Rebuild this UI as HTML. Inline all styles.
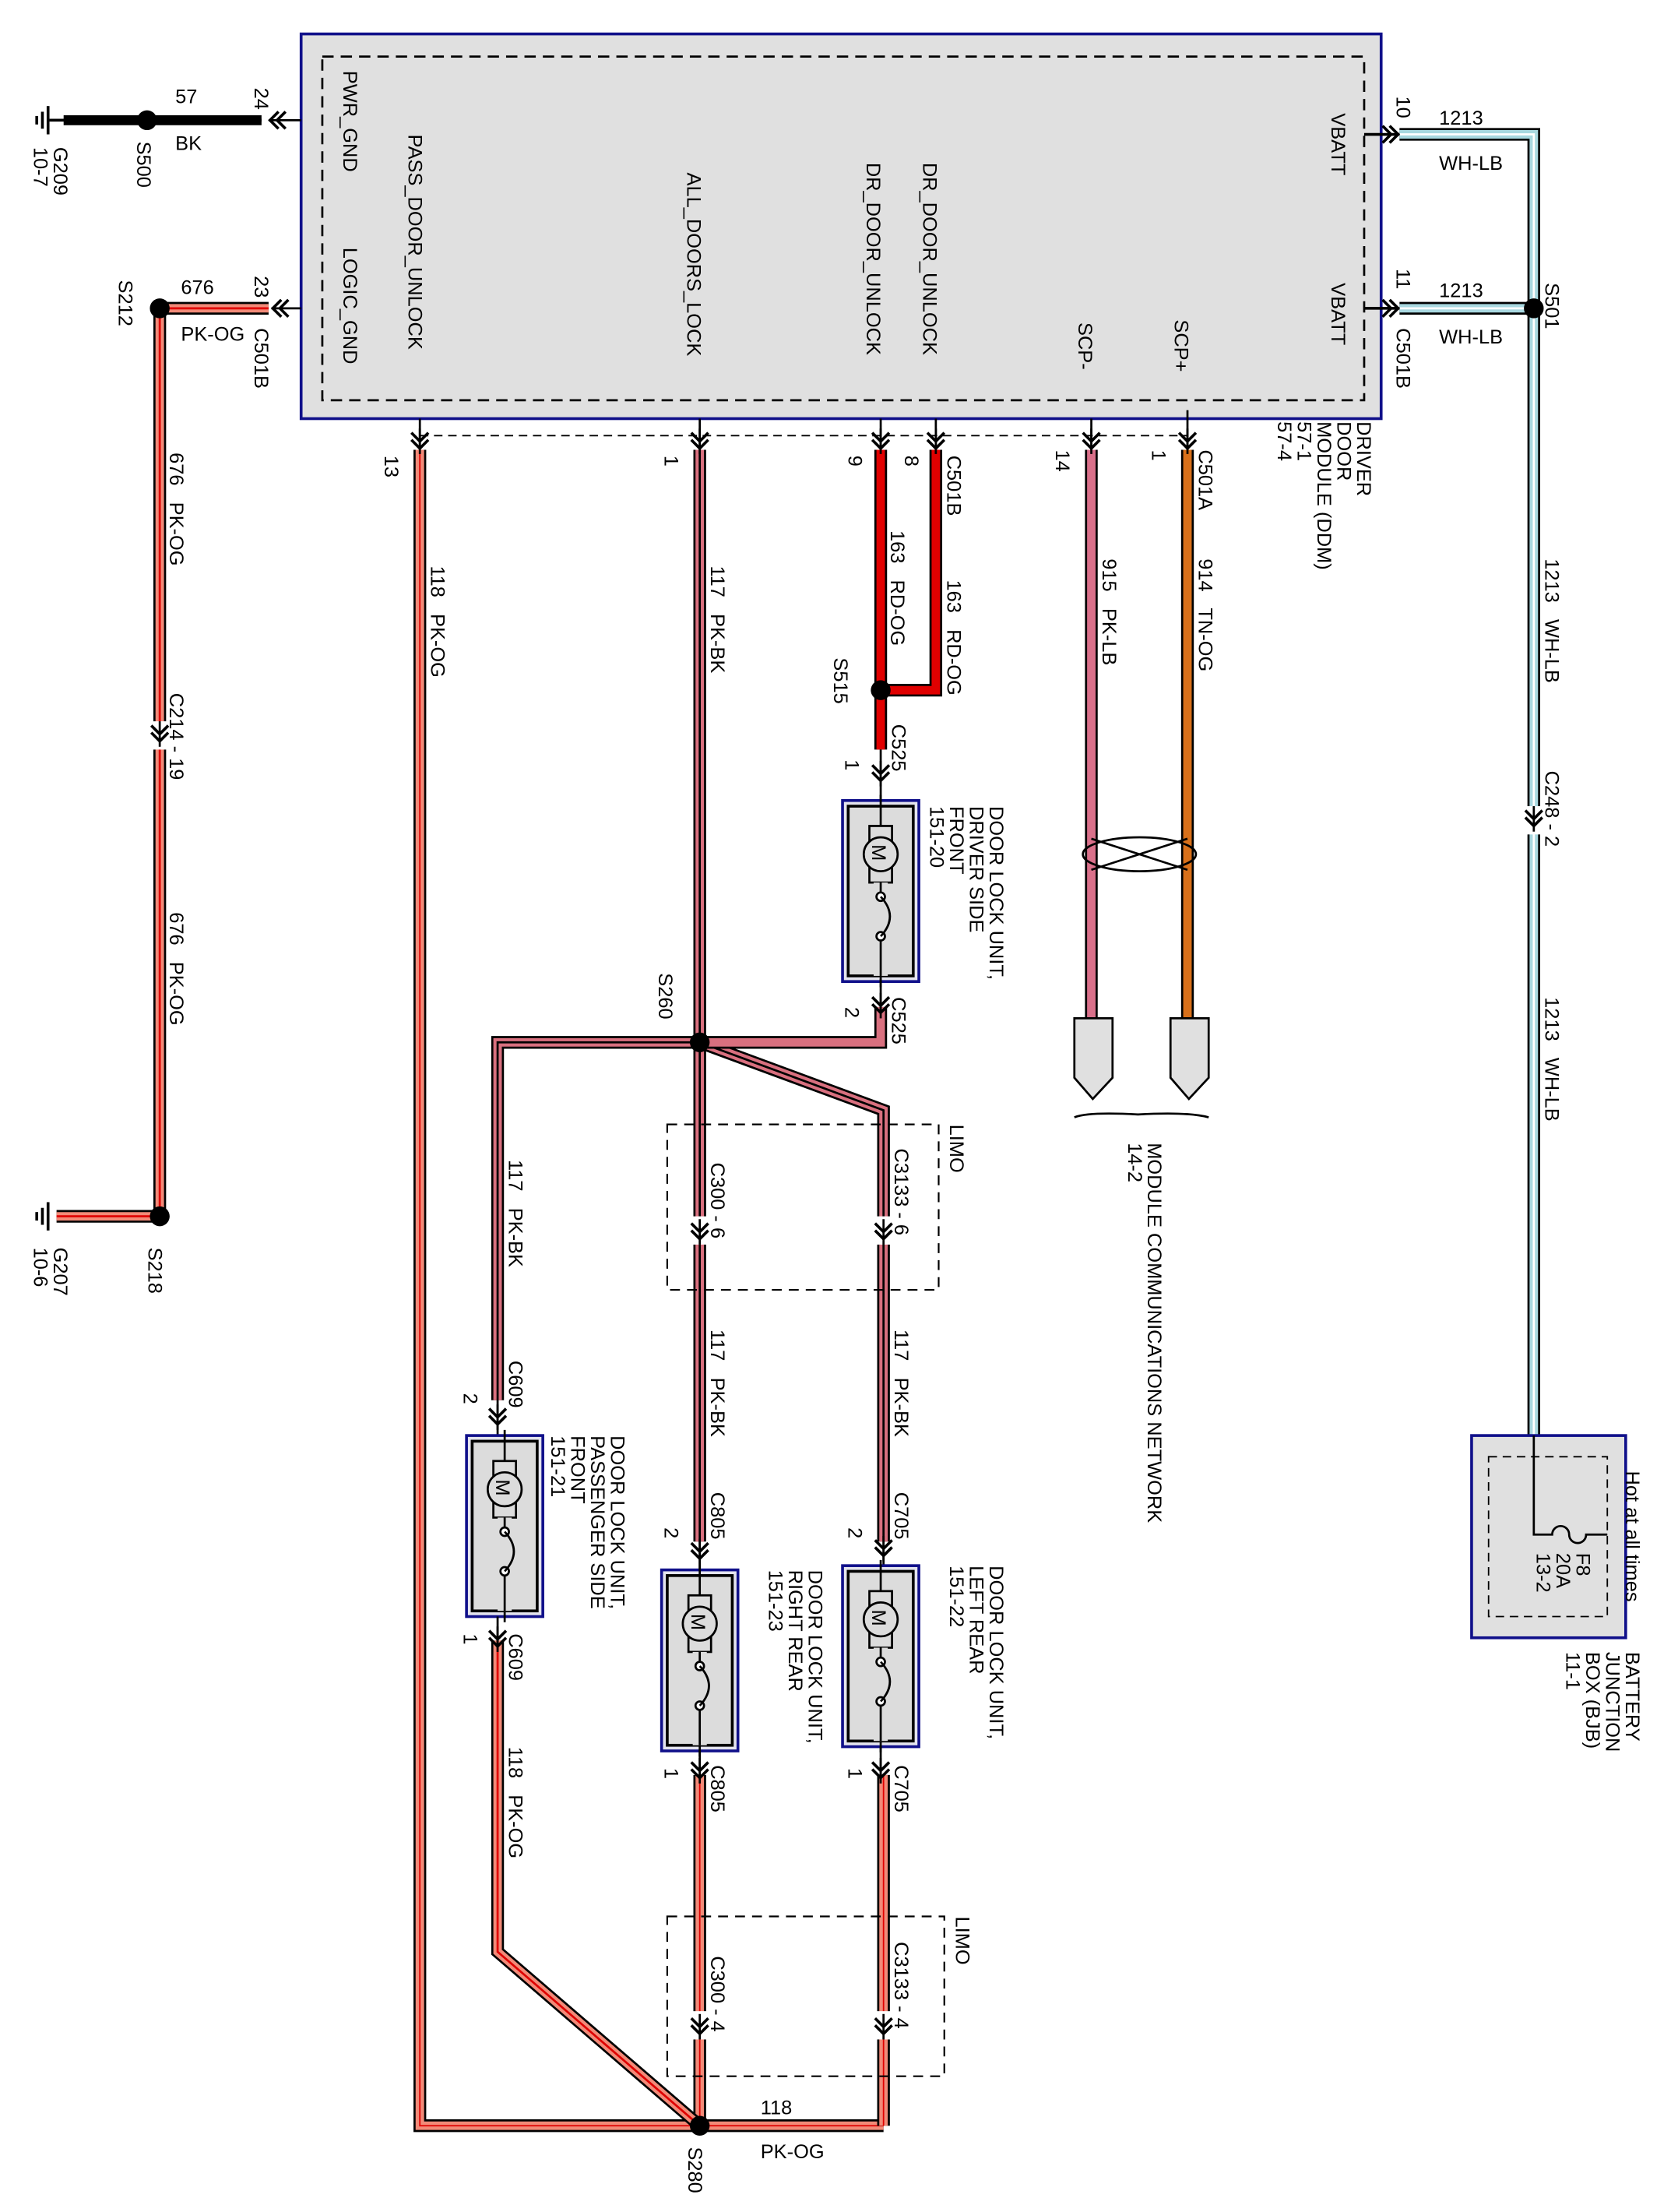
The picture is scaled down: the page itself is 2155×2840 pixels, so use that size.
<!DOCTYPE html>
<html><head><meta charset="utf-8"><style>
html,body{margin:0;padding:0;background:#fff;}
svg{display:block;}
text{font-family:"Liberation Sans",Arial,sans-serif;font-size:14px;fill:#000;white-space:pre;}
</style></head><body>
<svg width="2155" height="2840" viewBox="0 0 1187 1564" preserveAspectRatio="none" xmlns="http://www.w3.org/2000/svg" xml:space="preserve">
<defs>
<g id="lock">
<rect x="0" y="0" width="54" height="128" fill="#e4e4ee" stroke="#10108a" stroke-width="2"/>
<rect x="4" y="4" width="46" height="120" fill="#dcdcdc" stroke="#000" stroke-width="2"/>
<line x1="27" y1="-4" x2="27" y2="132" stroke="#000" stroke-width="1.5"/>
<rect x="19" y="18" width="16" height="40" fill="#dcdcdc" stroke="#000" stroke-width="1.5"/>
<circle cx="27" cy="38" r="12" fill="#dcdcdc" stroke="#000" stroke-width="1.5"/>
<text transform="translate(21,31) rotate(90)" style="font-size:14px">M</text>
<rect x="22" y="58" width="10" height="66" fill="#dcdcdc"/>
<line x1="27" y1="58" x2="27" y2="66" stroke="#000" stroke-width="1.5"/>
<line x1="27" y1="98" x2="27" y2="124" stroke="#000" stroke-width="1.5"/>
<circle cx="27" cy="68" r="3" fill="#fff" stroke="#000" stroke-width="1.5"/>
<circle cx="27" cy="96" r="3" fill="#fff" stroke="#000" stroke-width="1.5"/>
<path d="M27,68 Q40,82 27,96" fill="none" stroke="#000" stroke-width="1.5"/>
</g>
<g id="chev"><path d="M-6,-7 L0,-1 L6,-7 M-6,-2 L0,4 L6,-2" fill="none" stroke="#000" stroke-width="2"/><line x1="0" y1="-10" x2="0" y2="8" stroke="#000" stroke-width="1.5"/></g>
<g id="chevL"><path d="M7,-6 L1,0 L7,6 M2,-6 L-4,0 L2,6" fill="none" stroke="#000" stroke-width="2"/></g>
</defs>

<rect x="213" y="24" width="764" height="272" fill="#e0e0e0" stroke="#10108a" stroke-width="2"/>
<rect x="228" y="40" width="737" height="243" fill="none" stroke="#000" stroke-width="1.5" stroke-dasharray="8,5"/>
<path d="M297,308 L840,308" stroke="#000" stroke-width="1" stroke-dasharray="6,4" fill="none"/>
<text transform="translate(243,50) rotate(90)">PWR_GND</text>
<text transform="translate(243,175) rotate(90)">LOGIC_GND</text>
<text transform="translate(289,95) rotate(90)">PASS_DOOR_UNLOCK</text>
<text transform="translate(486,122) rotate(90)">ALL_DOORS_LOCK</text>
<text transform="translate(613,115) rotate(90)">DR_DOOR_UNLOCK</text>
<text transform="translate(653,115) rotate(90)">DR_DOOR_UNLOCK</text>
<text transform="translate(763,228) rotate(90)">SCP-</text>
<text transform="translate(831,226) rotate(90)">SCP+</text>
<text transform="translate(942,80) rotate(90)">VBATT</text>
<text transform="translate(942,200) rotate(90)">VBATT</text>
<text transform="translate(960,298) rotate(90)">DRIVER</text>
<text transform="translate(946,298) rotate(90)">DOOR</text>
<text transform="translate(932,298) rotate(90)">MODULE (DDM)</text>
<text transform="translate(918,298) rotate(90)">57-1</text>
<text transform="translate(904,298) rotate(90)">57-4</text>

<g stroke="#000" stroke-width="2">
<line x1="34" y1="75" x2="34" y2="95"/><line x1="30" y1="79" x2="30" y2="91"/><line x1="26" y1="82" x2="26" y2="88"/>
</g>
<line x1="35" y1="85" x2="185" y2="85" stroke="#000" stroke-width="2"/>
<line x1="45" y1="85" x2="185" y2="85" stroke="#000" stroke-width="7"/>
<circle cx="104" cy="85" r="7" fill="#000"/>
<use href="#chevL" x="195" y="85"/>
<line x1="190" y1="85" x2="213" y2="85" stroke="#000" stroke-width="1.5"/>
<text x="124" y="73">57</text><text x="124" y="106">BK</text>
<text transform="translate(180,62) rotate(90)">24</text>
<text transform="translate(38,104) rotate(90)">G209</text>
<text transform="translate(24,104) rotate(90)">10-7</text>
<text transform="translate(97,100) rotate(90)">S500</text>

<g fill="none" stroke-linejoin="miter">
<path d="M113,218 L190,218" stroke="#000" stroke-width="9"/>
<path d="M113,218 L190,218" stroke="#f28a78" stroke-width="6"/>
<path d="M113,218 L190,218" stroke="#e00000" stroke-width="1.5"/>
<path d="M113,218 L113,860 L40,860" stroke="#000" stroke-width="9"/>
<path d="M113,218 L113,860 L40,860" stroke="#f28a78" stroke-width="6"/>
<path d="M113,218 L113,860 L40,860" stroke="#e00000" stroke-width="1.5"/>
</g>
<use href="#chevL" x="197" y="218"/>
<line x1="192" y1="218" x2="213" y2="218" stroke="#000" stroke-width="1.5"/>
<circle cx="113" cy="218" r="7" fill="#000"/>
<circle cx="113" cy="860" r="7" fill="#000"/>
<rect x="106" y="510" width="14" height="20" fill="#fff"/>
<use href="#chev" x="113" y="520"/>
<text x="128" y="208">676</text><text x="128" y="241">PK-OG</text>
<text transform="translate(180,195) rotate(90)">23</text>
<text transform="translate(180,232) rotate(90)">C501B</text>
<text transform="translate(84,198) rotate(90)">S212</text>
<text transform="translate(120,320) rotate(90)">676   PK-OG</text>
<text transform="translate(120,490) rotate(90)">C214 - 19</text>
<text transform="translate(120,645) rotate(90)">676   PK-OG</text>
<text transform="translate(105,882) rotate(90)">S218</text>
<g stroke="#000" stroke-width="2">
<line x1="34" y1="850" x2="34" y2="870"/><line x1="30" y1="854" x2="30" y2="866"/><line x1="26" y1="857" x2="26" y2="863"/>
</g>
<text transform="translate(38,882) rotate(90)">G207</text>
<text transform="translate(24,882) rotate(90)">10-6</text>

<g fill="none">
<path d="M297,318 L297,1503 L625,1503" stroke="#000" stroke-width="9"/>
<path d="M297,318 L297,1503 L625,1503" stroke="#f28a78" stroke-width="6"/>
<path d="M297,318 L297,1503 L625,1503" stroke="#e00000" stroke-width="1"/>
<path d="M625,1503 L625,1255" stroke="#000" stroke-width="9"/>
<path d="M625,1503 L625,1255" stroke="#f28a78" stroke-width="6"/>
<path d="M625,1503 L625,1255" stroke="#e00000" stroke-width="1"/>
<path d="M495,1503 L495,1255" stroke="#000" stroke-width="9"/>
<path d="M495,1503 L495,1255" stroke="#f28a78" stroke-width="6"/>
<path d="M495,1503 L495,1255" stroke="#e00000" stroke-width="1"/>
<path d="M352,1160 L352,1380 L495,1503" stroke="#000" stroke-width="9"/>
<path d="M352,1160 L352,1380 L495,1503" stroke="#f28a78" stroke-width="6"/>
<path d="M352,1160 L352,1380 L495,1503" stroke="#e00000" stroke-width="1.5"/>
</g>
<line x1="297" y1="296" x2="297" y2="318" stroke="#000" stroke-width="1.5"/>
<use href="#chev" x="297" y="313"/>
<text transform="translate(272,322) rotate(90)">13</text>
<text transform="translate(305,400) rotate(90)">118   PK-OG</text>
<circle cx="495" cy="1503" r="7" fill="#000"/>
<text x="538" y="1495">118</text><text x="538" y="1526">PK-OG</text>
<text transform="translate(487,1518) rotate(90)">S280</text>

<g fill="none">
<path d="M495,318 L495,1090" stroke="#000" stroke-width="9"/>
<path d="M495,318 L495,1090" stroke="#d9707f" stroke-width="6"/>
<path d="M495,318 L495,1090" stroke="#000" stroke-width="1.5"/>
<path d="M495,737 L352,737 L352,990" stroke="#000" stroke-width="9"/>
<path d="M495,737 L352,737 L352,990" stroke="#d9707f" stroke-width="6"/>
<path d="M495,737 L352,737 L352,990" stroke="#000" stroke-width="1.5"/>
<path d="M495,737 L625,785 L625,1090" stroke="#000" stroke-width="9"/>
<path d="M495,737 L625,785 L625,1090" stroke="#d9707f" stroke-width="6"/>
<path d="M495,737 L625,785 L625,1090" stroke="#000" stroke-width="1.5"/>
<path d="M495,737 L623,737 L623,712" stroke="#000" stroke-width="9"/>
<path d="M495,737 L623,737 L623,712" stroke="#d9707f" stroke-width="6"/>
</g>
<line x1="495" y1="296" x2="495" y2="318" stroke="#000" stroke-width="1.5"/>
<use href="#chev" x="495" y="313"/>
<text transform="translate(470,322) rotate(90)">1</text>
<text transform="translate(503,400) rotate(90)">117   PK-BK</text>
<circle cx="495" cy="737" r="7" fill="#000"/>
<text transform="translate(466,688) rotate(90)">S260</text>

<g fill="none">
<path d="M662,318 L662,488 L623,488" stroke="#000" stroke-width="9"/>
<path d="M662,318 L662,488 L623,488" stroke="#e00000" stroke-width="6"/>
<path d="M623,318 L623,530" stroke="#000" stroke-width="9"/>
<path d="M623,318 L623,530" stroke="#e00000" stroke-width="6"/>
</g>
<line x1="623" y1="296" x2="623" y2="318" stroke="#000" stroke-width="1.5"/>
<line x1="662" y1="296" x2="662" y2="318" stroke="#000" stroke-width="1.5"/>
<use href="#chev" x="623" y="313"/><use href="#chev" x="662" y="313"/>
<text transform="translate(600,322) rotate(90)">9</text>
<text transform="translate(640,322) rotate(90)">8</text>
<text transform="translate(670,322) rotate(90)">C501B</text>
<text transform="translate(630,375) rotate(90)">163   RD-OG</text>
<text transform="translate(670,410) rotate(90)">163   RD-OG</text>
<circle cx="623" cy="488" r="7" fill="#000"/>
<text transform="translate(590,465) rotate(90)">S515</text>
<line x1="623" y1="530" x2="623" y2="566" stroke="#000" stroke-width="1.5"/>
<use href="#chev" x="623" y="548"/>
<text transform="translate(598,537) rotate(90)">1</text>
<text transform="translate(631,512) rotate(90)">C525</text>
<use href="#lock" x="596" y="566"/>
<line x1="623" y1="692" x2="623" y2="714" stroke="#000" stroke-width="1.5"/>
<use href="#chev" x="623" y="712"/>
<text transform="translate(598,712) rotate(90)">2</text>
<text transform="translate(631,705) rotate(90)">C525</text>
<text transform="translate(700,570) rotate(90)">DOOR LOCK UNIT,</text>
<text transform="translate(686,570) rotate(90)">DRIVER SIDE</text>
<text transform="translate(672,570) rotate(90)">FRONT</text>
<text transform="translate(658,570) rotate(90)">151-20</text>

<g fill="none">
<path d="M772,318 L772,720" stroke="#000" stroke-width="9"/>
<path d="M772,318 L772,720" stroke="#d9708a" stroke-width="6"/>
<path d="M840,318 L840,720" stroke="#000" stroke-width="9"/>
<path d="M840,318 L840,720" stroke="#d8701a" stroke-width="6"/>
<ellipse cx="806" cy="604" rx="40" ry="12" stroke="#000" stroke-width="1.5"/>
<line x1="772" y1="593" x2="840" y2="615" stroke="#000" stroke-width="1.5"/>
<line x1="772" y1="615" x2="840" y2="593" stroke="#000" stroke-width="1.5"/>
<path d="M760,720 L787,720 L787,762 L773,777 L760,762 Z" fill="#e0e0e0" stroke="#000" stroke-width="1.5"/>
<path d="M828,720 L855,720 L855,762 L841,777 L828,762 Z" fill="#e0e0e0" stroke="#000" stroke-width="1.5"/>
<path d="M760,790 Q770,786 805,788 Q840,786 855,790" stroke="#000" stroke-width="1.5"/>
</g>
<line x1="772" y1="296" x2="772" y2="318" stroke="#000" stroke-width="1.5"/>
<line x1="840" y1="290" x2="840" y2="318" stroke="#000" stroke-width="1.5"/>
<use href="#chev" x="772" y="313"/><use href="#chev" x="840" y="313"/>
<text transform="translate(747,318) rotate(90)">14</text>
<text transform="translate(815,318) rotate(90)">1</text>
<text transform="translate(848,318) rotate(90)">C501A</text>
<text transform="translate(780,395) rotate(90)">915   PK-LB</text>
<text transform="translate(848,395) rotate(90)">914   TN-OG</text>
<text transform="translate(812,808) rotate(90)">MODULE COMMUNICATIONS NETWORK</text>
<text transform="translate(798,808) rotate(90)">14-2</text>

<g fill="none">
<path d="M990,95 L1085,95 L1085,1015" stroke="#000" stroke-width="9"/>
<path d="M990,95 L1085,95 L1085,1015" stroke="#a8d8e0" stroke-width="6"/>
<path d="M990,95 L1085,95 L1085,1015" stroke="#fff" stroke-width="1.5"/>
<path d="M990,218 L1085,218" stroke="#000" stroke-width="9"/>
<path d="M990,218 L1085,218" stroke="#a8d8e0" stroke-width="6"/>
<path d="M990,218 L1085,218" stroke="#fff" stroke-width="1.5"/>
</g>
<line x1="965" y1="95" x2="990" y2="95" stroke="#000" stroke-width="2"/>
<line x1="965" y1="218" x2="990" y2="218" stroke="#000" stroke-width="2"/>
<path d="M983,89 L989,95 L983,101 M978,89 L984,95 L978,101" fill="none" stroke="#000" stroke-width="2"/>
<path d="M983,212 L989,218 L983,224 M978,212 L984,218 L978,224" fill="none" stroke="#000" stroke-width="2"/>
<circle cx="1085" cy="218" r="7" fill="#000"/>
<text transform="translate(988,68) rotate(90)">10</text>
<text transform="translate(988,190) rotate(90)">11</text>
<text transform="translate(988,232) rotate(90)">C501B</text>
<text x="1018" y="88">1213</text><text x="1018" y="120">WH-LB</text>
<text x="1018" y="210">1213</text><text x="1018" y="243">WH-LB</text>
<text transform="translate(1093,200) rotate(90)">S501</text>
<text transform="translate(1093,395) rotate(90)">1213   WH-LB</text>
<rect x="1078" y="570" width="14" height="20" fill="#fff"/>
<use href="#chev" x="1085" y="580"/>
<text transform="translate(1093,545) rotate(90)">C248 - 2</text>
<text transform="translate(1093,705) rotate(90)">1213   WH-LB</text>

<rect x="1041" y="1015" width="109" height="143" fill="#e0e0e0" stroke="#10108a" stroke-width="2"/>
<rect x="1053" y="1030" width="84" height="113" fill="none" stroke="#000" stroke-width="1" stroke-dasharray="6,4"/>
<path d="M1085,1015 L1085,1085 L1098,1085 A6,6 0 0 1 1110,1085 A6,6 0 0 0 1122,1085 L1137,1085" fill="none" stroke="#000" stroke-width="1.5"/>
<text transform="translate(1115,1098) rotate(90)">F8</text>
<text transform="translate(1101,1098) rotate(90)">20A</text>
<text transform="translate(1087,1098) rotate(90)">13-2</text>
<text transform="translate(1150,1040) rotate(90)">Hot at all times</text>
<text transform="translate(1150,1168) rotate(90)">BATTERY</text>
<text transform="translate(1136,1168) rotate(90)">JUNCTION</text>
<text transform="translate(1122,1168) rotate(90)">BOX (BJB)</text>
<text transform="translate(1108,1168) rotate(90)">11-1</text>

<rect x="472" y="795" width="192" height="117" fill="none" stroke="#000" stroke-width="1.2" stroke-dasharray="7,5"/>
<text transform="translate(672,795) rotate(90)">LIMO</text>
<rect x="488" y="860" width="14" height="20" fill="#fff"/><rect x="618" y="860" width="14" height="20" fill="#fff"/>
<use href="#chev" x="495" y="872"/><use href="#chev" x="625" y="872"/>
<text transform="translate(503,822) rotate(90)">C300 - 6</text>
<text transform="translate(633,812) rotate(90)">C3133 - 6</text>
<rect x="472" y="1355" width="196" height="113" fill="none" stroke="#000" stroke-width="1.2" stroke-dasharray="7,5"/>
<text transform="translate(676,1355) rotate(90)">LIMO</text>
<rect x="488" y="1422" width="14" height="20" fill="#fff"/><rect x="618" y="1422" width="14" height="20" fill="#fff"/>
<use href="#chev" x="495" y="1434"/><use href="#chev" x="625" y="1434"/>
<text transform="translate(503,1383) rotate(90)">C300 - 4</text>
<text transform="translate(633,1373) rotate(90)">C3133 - 4</text>

<text transform="translate(503,940) rotate(90)">117   PK-BK</text>
<text transform="translate(633,940) rotate(90)">117   PK-BK</text>
<text transform="translate(360,820) rotate(90)">117   PK-BK</text>

<line x1="352" y1="990" x2="352" y2="1015" stroke="#000" stroke-width="1.5"/>
<use href="#chev" x="352" y="1003"/>
<text transform="translate(328,985) rotate(90)">2</text>
<text transform="translate(360,962) rotate(90)">C609</text>
<use href="#lock" x="330" y="1015"/>
<line x1="352" y1="1143" x2="352" y2="1165" stroke="#000" stroke-width="1.5"/>
<use href="#chev" x="352" y="1160"/>
<text transform="translate(328,1155) rotate(90)">1</text>
<text transform="translate(360,1155) rotate(90)">C609</text>
<text transform="translate(432,1015) rotate(90)">DOOR LOCK UNIT,</text>
<text transform="translate(418,1015) rotate(90)">PASSENGER SIDE</text>
<text transform="translate(404,1015) rotate(90)">FRONT</text>
<text transform="translate(390,1015) rotate(90)">151-21</text>
<text transform="translate(360,1235) rotate(90)">118   PK-OG</text>

<line x1="495" y1="1090" x2="495" y2="1110" stroke="#000" stroke-width="1.5"/>
<use href="#chev" x="495" y="1098"/>
<text transform="translate(470,1080) rotate(90)">2</text>
<text transform="translate(503,1055) rotate(90)">C805</text>
<use href="#lock" x="468" y="1110"/>
<line x1="495" y1="1237" x2="495" y2="1258" stroke="#000" stroke-width="1.5"/>
<use href="#chev" x="495" y="1253"/>
<text transform="translate(470,1250) rotate(90)">1</text>
<text transform="translate(503,1248) rotate(90)">C805</text>
<text transform="translate(572,1110) rotate(90)">DOOR LOCK UNIT,</text>
<text transform="translate(558,1110) rotate(90)">RIGHT REAR</text>
<text transform="translate(544,1110) rotate(90)">151-23</text>

<line x1="625" y1="1090" x2="625" y2="1107" stroke="#000" stroke-width="1.5"/>
<use href="#chev" x="625" y="1096"/>
<text transform="translate(600,1080) rotate(90)">2</text>
<text transform="translate(633,1055) rotate(90)">C705</text>
<use href="#lock" x="596" y="1107"/>
<line x1="623" y1="1235" x2="623" y2="1258" stroke="#000" stroke-width="1.5"/>
<use href="#chev" x="623" y="1253"/>
<text transform="translate(600,1250) rotate(90)">1</text>
<text transform="translate(633,1248) rotate(90)">C705</text>
<text transform="translate(700,1107) rotate(90)">DOOR LOCK UNIT,</text>
<text transform="translate(686,1107) rotate(90)">LEFT REAR</text>
<text transform="translate(672,1107) rotate(90)">151-22</text>
</svg>
</body></html>
